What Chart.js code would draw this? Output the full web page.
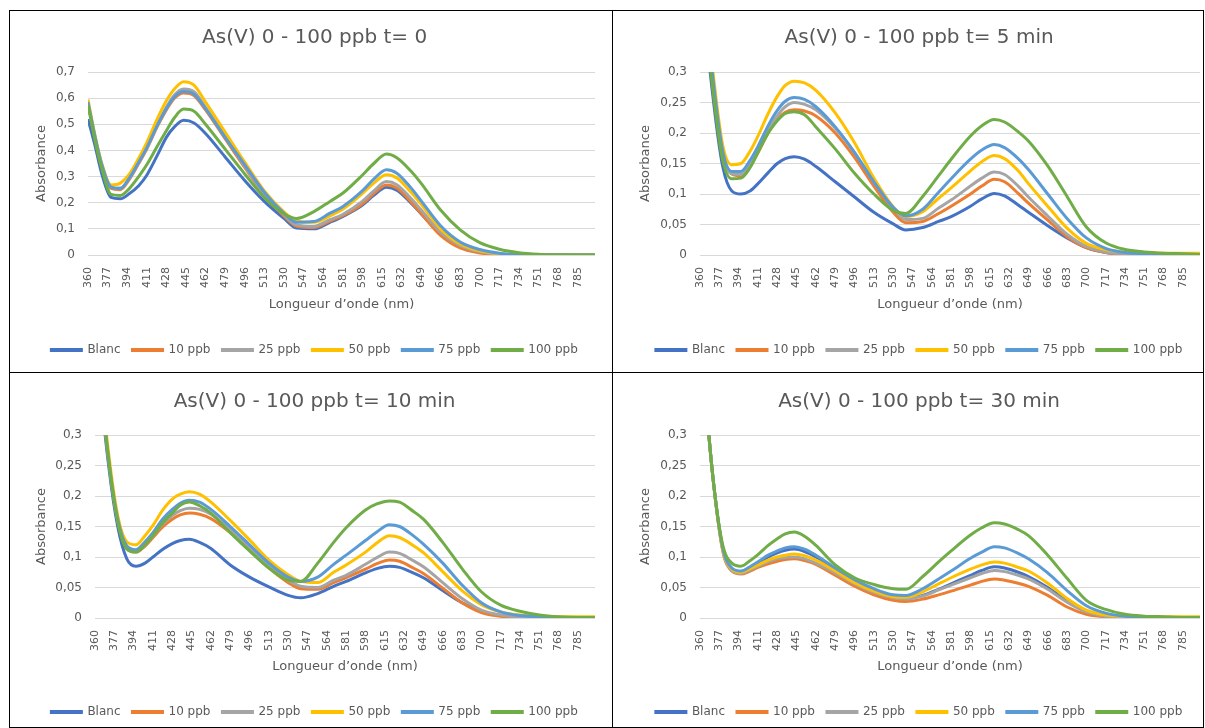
<!DOCTYPE html>
<html>
<head>
<meta charset="utf-8">
<script src="https://cdn.jsdelivr.net/npm/chart.js@4.4.1/dist/chart.umd.min.js"></script>
<style>
body { margin: 0; background: #fff; width: 1205px; height: 728px; overflow: hidden; position: relative; }
canvas { position: absolute; }
.line { position: absolute; background: #000; }
</style>
</head>
<body>
<div class="line" style="left:9px;top:10px;width:1195px;height:1px"></div>
<div class="line" style="left:9px;top:372px;width:1195px;height:1px"></div>
<div class="line" style="left:9px;top:727px;width:1195px;height:1px"></div>
<div class="line" style="left:9px;top:10px;width:1px;height:718px"></div>
<div class="line" style="left:612px;top:10px;width:1px;height:718px"></div>
<div class="line" style="left:1203px;top:10px;width:1px;height:718px"></div>

<canvas id="c0" width="602" height="361" style="left:10px;top:11px"></canvas>
<canvas id="c1" width="590" height="361" style="left:613px;top:11px"></canvas>
<canvas id="c2" width="602" height="354" style="left:10px;top:373px"></canvas>
<canvas id="c3" width="590" height="354" style="left:613px;top:373px"></canvas>

<script>
// Longueurs d'onde (nm) des points relevés
const nm = [360, 366, 372, 380, 388, 396, 404, 411, 420, 428, 435, 443, 452, 462, 479, 496, 513, 530, 541, 556, 570, 581, 598, 608, 619, 628, 640, 649, 666, 683, 700, 717, 734, 751, 768, 785, 800];
// Étiquettes de l'axe X
const nmTicks = [360, 377, 394, 411, 428, 445, 462, 479, 496, 513, 530, 547, 564, 581, 598, 615, 632, 649, 666, 683, 700, 717, 734, 751, 768, 785];

const seriesNames = ['Blanc', '10 ppb', '25 ppb', '50 ppb', '75 ppb', '100 ppb'];
const seriesColors = ['#4472C4', '#ED7D31', '#A5A5A5', '#FFC000', '#5B9BD5', '#70AD47'];
const titles = ['As(V) 0 - 100 ppb t= 0', 'As(V) 0 - 100 ppb t= 5 min', 'As(V) 0 - 100 ppb t= 10 min', 'As(V) 0 - 100 ppb t= 30 min'];

// t = 0
const t0Blanc = [0.52, 0.42, 0.31, 0.22, 0.215, 0.235, 0.265, 0.305, 0.38, 0.45, 0.49, 0.515, 0.505, 0.465, 0.375, 0.285, 0.205, 0.14, 0.103, 0.10, 0.125, 0.147, 0.19, 0.228, 0.259, 0.248, 0.2, 0.158, 0.08, 0.033, 0.012, 0.004, 0.001, 0, 0, 0, 0];
const t0P10 = [0.58, 0.45, 0.34, 0.255, 0.25, 0.29, 0.35, 0.405, 0.49, 0.555, 0.6, 0.62, 0.61, 0.555, 0.445, 0.335, 0.23, 0.15, 0.11, 0.105, 0.13, 0.15, 0.195, 0.235, 0.268, 0.256, 0.205, 0.16, 0.075, 0.027, 0.008, 0.002, 0, 0, 0, 0, 0];
const t0P25 = [0.58, 0.45, 0.34, 0.26, 0.255, 0.295, 0.355, 0.41, 0.495, 0.565, 0.612, 0.635, 0.625, 0.565, 0.455, 0.34, 0.235, 0.155, 0.115, 0.11, 0.135, 0.155, 0.205, 0.245, 0.281, 0.269, 0.218, 0.173, 0.087, 0.036, 0.013, 0.004, 0.001, 0, 0, 0, 0];
const t0P50 = [0.595, 0.46, 0.35, 0.268, 0.275, 0.31, 0.37, 0.43, 0.52, 0.59, 0.635, 0.663, 0.65, 0.585, 0.47, 0.355, 0.245, 0.165, 0.13, 0.125, 0.15, 0.175, 0.235, 0.275, 0.307, 0.295, 0.242, 0.195, 0.1, 0.042, 0.016, 0.005, 0.002, 0.001, 0, 0, 0];
const t0P75 = [0.585, 0.455, 0.345, 0.26, 0.255, 0.295, 0.355, 0.41, 0.495, 0.56, 0.605, 0.625, 0.615, 0.56, 0.45, 0.345, 0.24, 0.16, 0.125, 0.128, 0.16, 0.185, 0.245, 0.29, 0.326, 0.313, 0.258, 0.208, 0.112, 0.05, 0.021, 0.007, 0.002, 0.001, 0, 0, 0];
const t0P100 = [0.575, 0.44, 0.33, 0.232, 0.228, 0.255, 0.3, 0.345, 0.415, 0.475, 0.525, 0.558, 0.55, 0.5, 0.405, 0.31, 0.22, 0.158, 0.14, 0.166, 0.205, 0.236, 0.305, 0.35, 0.386, 0.372, 0.322, 0.275, 0.172, 0.096, 0.047, 0.022, 0.009, 0.003, 0.001, 0, 0];

// t = 5 min
const t5Blanc = [0.55, 0.36, 0.25, 0.145, 0.105, 0.10, 0.105, 0.117, 0.135, 0.15, 0.158, 0.161, 0.157, 0.145, 0.12, 0.095, 0.07, 0.051, 0.041, 0.045, 0.055, 0.063, 0.08, 0.092, 0.101, 0.097, 0.082, 0.07, 0.048, 0.028, 0.012, 0.004, 0.001, 0, 0, 0, 0];
const t5P10 = [0.55, 0.38, 0.27, 0.165, 0.133, 0.13, 0.145, 0.168, 0.2, 0.222, 0.234, 0.238, 0.236, 0.228, 0.2, 0.16, 0.113, 0.07, 0.053, 0.055, 0.068, 0.08, 0.1, 0.113, 0.124, 0.12, 0.101, 0.085, 0.057, 0.03, 0.012, 0.004, 0.001, 0, 0, 0, 0];
const t5P25 = [0.55, 0.38, 0.27, 0.165, 0.133, 0.132, 0.148, 0.17, 0.203, 0.228, 0.243, 0.25, 0.247, 0.238, 0.208, 0.168, 0.12, 0.077, 0.058, 0.06, 0.077, 0.09, 0.113, 0.126, 0.136, 0.132, 0.113, 0.095, 0.064, 0.034, 0.014, 0.005, 0.002, 0.001, 0.001, 0.001, 0.001];
const t5P50 = [0.55, 0.40, 0.29, 0.18, 0.148, 0.15, 0.17, 0.195, 0.232, 0.26, 0.278, 0.285, 0.282, 0.27, 0.233, 0.184, 0.126, 0.079, 0.063, 0.071, 0.093, 0.11, 0.138, 0.153, 0.163, 0.158, 0.138, 0.117, 0.08, 0.044, 0.019, 0.009, 0.005, 0.004, 0.003, 0.003, 0.003];
const t5P75 = [0.55, 0.39, 0.28, 0.17, 0.137, 0.137, 0.155, 0.178, 0.212, 0.237, 0.252, 0.258, 0.255, 0.243, 0.21, 0.168, 0.12, 0.078, 0.064, 0.075, 0.103, 0.125, 0.157, 0.172, 0.181, 0.176, 0.158, 0.14, 0.1, 0.06, 0.028, 0.011, 0.004, 0.002, 0.001, 0.001, 0.001];
const t5P100 = [0.55, 0.37, 0.26, 0.155, 0.125, 0.126, 0.143, 0.168, 0.2, 0.22, 0.232, 0.235, 0.23, 0.21, 0.174, 0.134, 0.1, 0.073, 0.068, 0.096, 0.13, 0.157, 0.195, 0.212, 0.222, 0.218, 0.202, 0.187, 0.146, 0.096, 0.046, 0.02, 0.009, 0.005, 0.003, 0.002, 0.001];

// t = 10 min
const t10Blanc = [0.55, 0.36, 0.25, 0.15, 0.097, 0.085, 0.09, 0.1, 0.113, 0.122, 0.127, 0.129, 0.124, 0.114, 0.087, 0.067, 0.051, 0.037, 0.033, 0.04, 0.052, 0.06, 0.074, 0.081, 0.085, 0.083, 0.074, 0.066, 0.045, 0.025, 0.011, 0.004, 0.001, 0, 0, 0, 0];
const t10P10 = [0.55, 0.37, 0.26, 0.16, 0.115, 0.108, 0.118, 0.132, 0.15, 0.162, 0.169, 0.172, 0.17, 0.163, 0.14, 0.112, 0.082, 0.058, 0.048, 0.047, 0.058, 0.066, 0.08, 0.089, 0.095, 0.093, 0.082, 0.073, 0.049, 0.025, 0.009, 0.003, 0.001, 0, 0, 0, 0];
const t10P25 = [0.55, 0.37, 0.26, 0.16, 0.117, 0.11, 0.12, 0.135, 0.155, 0.168, 0.176, 0.18, 0.178, 0.17, 0.145, 0.115, 0.085, 0.062, 0.052, 0.05, 0.062, 0.07, 0.088, 0.099, 0.108, 0.106, 0.094, 0.084, 0.058, 0.032, 0.013, 0.005, 0.002, 0.001, 0.001, 0.001, 0.001];
const t10P50 = [0.55, 0.38, 0.27, 0.168, 0.125, 0.12, 0.135, 0.152, 0.178, 0.195, 0.203, 0.207, 0.203, 0.19, 0.16, 0.128, 0.095, 0.071, 0.06, 0.058, 0.075, 0.087, 0.108, 0.123, 0.135, 0.132, 0.119, 0.107, 0.076, 0.045, 0.022, 0.01, 0.005, 0.003, 0.002, 0.002, 0.002];
const t10P75 = [0.55, 0.37, 0.26, 0.162, 0.118, 0.112, 0.125, 0.14, 0.163, 0.178, 0.188, 0.193, 0.19, 0.178, 0.15, 0.12, 0.09, 0.067, 0.06, 0.067, 0.088, 0.103, 0.127, 0.141, 0.153, 0.15, 0.135, 0.121, 0.09, 0.054, 0.025, 0.01, 0.004, 0.002, 0.001, 0.001, 0.001];
const t10P100 = [0.55, 0.37, 0.26, 0.158, 0.113, 0.108, 0.12, 0.135, 0.157, 0.172, 0.185, 0.19, 0.184, 0.172, 0.14, 0.11, 0.082, 0.062, 0.06, 0.09, 0.124, 0.148, 0.177, 0.187, 0.192, 0.19, 0.175, 0.162, 0.124, 0.081, 0.043, 0.021, 0.011, 0.005, 0.002, 0.001, 0.001];

// t = 30 min
const t30Blanc = [0.5, 0.34, 0.22, 0.115, 0.081, 0.076, 0.082, 0.09, 0.1, 0.107, 0.111, 0.113, 0.109, 0.1, 0.08, 0.06, 0.045, 0.035, 0.032, 0.037, 0.047, 0.056, 0.07, 0.078, 0.084, 0.082, 0.075, 0.068, 0.05, 0.028, 0.011, 0.004, 0.001, 0, 0, 0, 0];
const t30P10 = [0.5, 0.34, 0.22, 0.11, 0.077, 0.072, 0.077, 0.083, 0.089, 0.093, 0.096, 0.097, 0.094, 0.088, 0.07, 0.052, 0.038, 0.029, 0.027, 0.031, 0.038, 0.044, 0.054, 0.06, 0.064, 0.062, 0.057, 0.052, 0.037, 0.018, 0.006, 0.002, 0.001, 0, 0, 0, 0];
const t30P25 = [0.5, 0.34, 0.22, 0.112, 0.078, 0.073, 0.079, 0.085, 0.092, 0.097, 0.099, 0.1, 0.097, 0.09, 0.074, 0.056, 0.042, 0.033, 0.031, 0.036, 0.046, 0.054, 0.066, 0.073, 0.078, 0.076, 0.07, 0.064, 0.047, 0.026, 0.01, 0.003, 0.001, 0, 0, 0, 0];
const t30P50 = [0.5, 0.34, 0.22, 0.113, 0.08, 0.075, 0.081, 0.087, 0.095, 0.1, 0.103, 0.105, 0.102, 0.095, 0.077, 0.058, 0.044, 0.035, 0.034, 0.043, 0.056, 0.066, 0.08, 0.087, 0.092, 0.09, 0.083, 0.077, 0.057, 0.032, 0.013, 0.005, 0.003, 0.002, 0.002, 0.002, 0.002];
const t30P75 = [0.5, 0.34, 0.22, 0.115, 0.082, 0.077, 0.084, 0.092, 0.103, 0.11, 0.115, 0.117, 0.113, 0.103, 0.082, 0.063, 0.048, 0.038, 0.037, 0.048, 0.064, 0.077, 0.098, 0.108, 0.117, 0.115, 0.106, 0.097, 0.074, 0.045, 0.02, 0.008, 0.003, 0.002, 0.001, 0.001, 0.001];
const t30P100 = [0.5, 0.34, 0.22, 0.12, 0.09, 0.085, 0.094, 0.104, 0.119, 0.13, 0.138, 0.141, 0.134, 0.119, 0.087, 0.066, 0.055, 0.048, 0.047, 0.068, 0.092, 0.11, 0.136, 0.148, 0.156, 0.154, 0.145, 0.135, 0.103, 0.065, 0.029, 0.014, 0.006, 0.003, 0.002, 0.001, 0.001];

const FONT = "'DejaVu Sans', 'Open Sans', sans-serif";
const TXT = '#595959';
Chart.defaults.font.family = FONT;
Chart.defaults.color = TXT;

// zones de chaque graphique (coordonnées dans le canvas)
const layouts = [
    { left: 78, right: 585, top: 61, bottom: 244, titleY: 27, yTitleX: 32, xTitleY: 294, legendY: 337 },
    { left: 87, right: 587, top: 61, bottom: 244, titleY: 27, yTitleX: 33, xTitleY: 294, legendY: 337 },
    { left: 85, right: 585, top: 62, bottom: 245, titleY: 29, yTitleX: 32, xTitleY: 294, legendY: 337 },
    { left: 87, right: 587, top: 62, bottom: 245, titleY: 29, yTitleX: 33, xTitleY: 294, legendY: 337 }
];

function fmt(v) {
    return String(+v.toFixed(3)).replace('.', ',');
}

function makeChart(id, title, yMax, yStep, series, L) {
    const canvas = document.getElementById(id);
    const w = canvas.width, h = canvas.height;
    const titleSize = 20, titleLH = titleSize * 1.2;
    const axisSize = 13, axisLH = axisSize * 1.2;
    const legSize = 12, legPad = 12;
    const legendH = legSize + legPad + 10;
    const padBottom = h - L.legendY - (legPad + legSize / 2);
    const legendTop = h - padBottom - legendH;
    const xH = legendTop - L.bottom;
    const padLeft = L.yTitleX - axisLH / 2;

    return new Chart(canvas, {
        type: 'line',
        data: {
            datasets: series.map((vals, i) => ({
                label: seriesNames[i],
                data: vals.map((v, k) => ({ x: nm[k], y: v })),
                borderColor: seriesColors[i],
                backgroundColor: seriesColors[i],
                borderWidth: 3,
                pointRadius: 0,
                cubicInterpolationMode: 'monotone',
                order: series.length - i // dernière série dessinée au-dessus
            }))
        },
        options: {
            responsive: false,
            animation: false,
            layout: { padding: { left: padLeft, right: w - L.right, top: 0, bottom: padBottom } },
            plugins: {
                title: {
                    display: true,
                    text: title,
                    color: TXT,
                    font: { size: titleSize, weight: 'normal' },
                    padding: { top: L.titleY - titleLH / 2, bottom: L.top - L.titleY - titleLH / 2 }
                },
                legend: {
                    position: 'bottom',
                    labels: {
                        boxWidth: 30,
                        boxHeight: 1,
                        padding: legPad,
                        color: TXT,
                        font: { size: legSize },
                        sort: (a, b) => a.datasetIndex - b.datasetIndex
                    }
                },
                tooltip: { enabled: false }
            },
            scales: {
                x: {
                    type: 'linear',
                    min: 360,
                    max: 800,
                    grid: { display: false },
                    border: { display: false },
                    afterBuildTicks: axis => { axis.ticks = nmTicks.map(v => ({ value: v })); },
                    afterFit: axis => { axis.height = xH; },
                    ticks: {
                        autoSkip: false,
                        minRotation: 90,
                        maxRotation: 90,
                        padding: 4,
                        font: { size: 11 },
                        callback: v => String(v)
                    },
                    title: {
                        display: true,
                        text: 'Longueur d\u2019onde (nm)',
                        color: TXT,
                        font: { size: axisSize },
                        padding: { top: 0, bottom: L.bottom + xH - axisLH / 2 - L.xTitleY }
                    }
                },
                y: {
                    min: 0,
                    max: yMax,
                    grid: { color: '#D9D9D9', drawTicks: false },
                    border: { display: false },
                    afterFit: axis => { axis.width = L.left - padLeft; },
                    ticks: {
                        stepSize: yStep,
                        padding: 13,
                        font: { size: 12 },
                        callback: v => fmt(v)
                    },
                    title: {
                        display: true,
                        text: 'Absorbance',
                        color: TXT,
                        font: { size: axisSize },
                        padding: { top: 0, bottom: 0 }
                    }
                }
            }
        }
    });
}

makeChart('c0', titles[0], 0.7, 0.1, [t0Blanc, t0P10, t0P25, t0P50, t0P75, t0P100], layouts[0]);
makeChart('c1', titles[1], 0.3, 0.05, [t5Blanc, t5P10, t5P25, t5P50, t5P75, t5P100], layouts[1]);
makeChart('c2', titles[2], 0.3, 0.05, [t10Blanc, t10P10, t10P25, t10P50, t10P75, t10P100], layouts[2]);
makeChart('c3', titles[3], 0.3, 0.05, [t30Blanc, t30P10, t30P25, t30P50, t30P75, t30P100], layouts[3]);
</script>
</body>
</html>
